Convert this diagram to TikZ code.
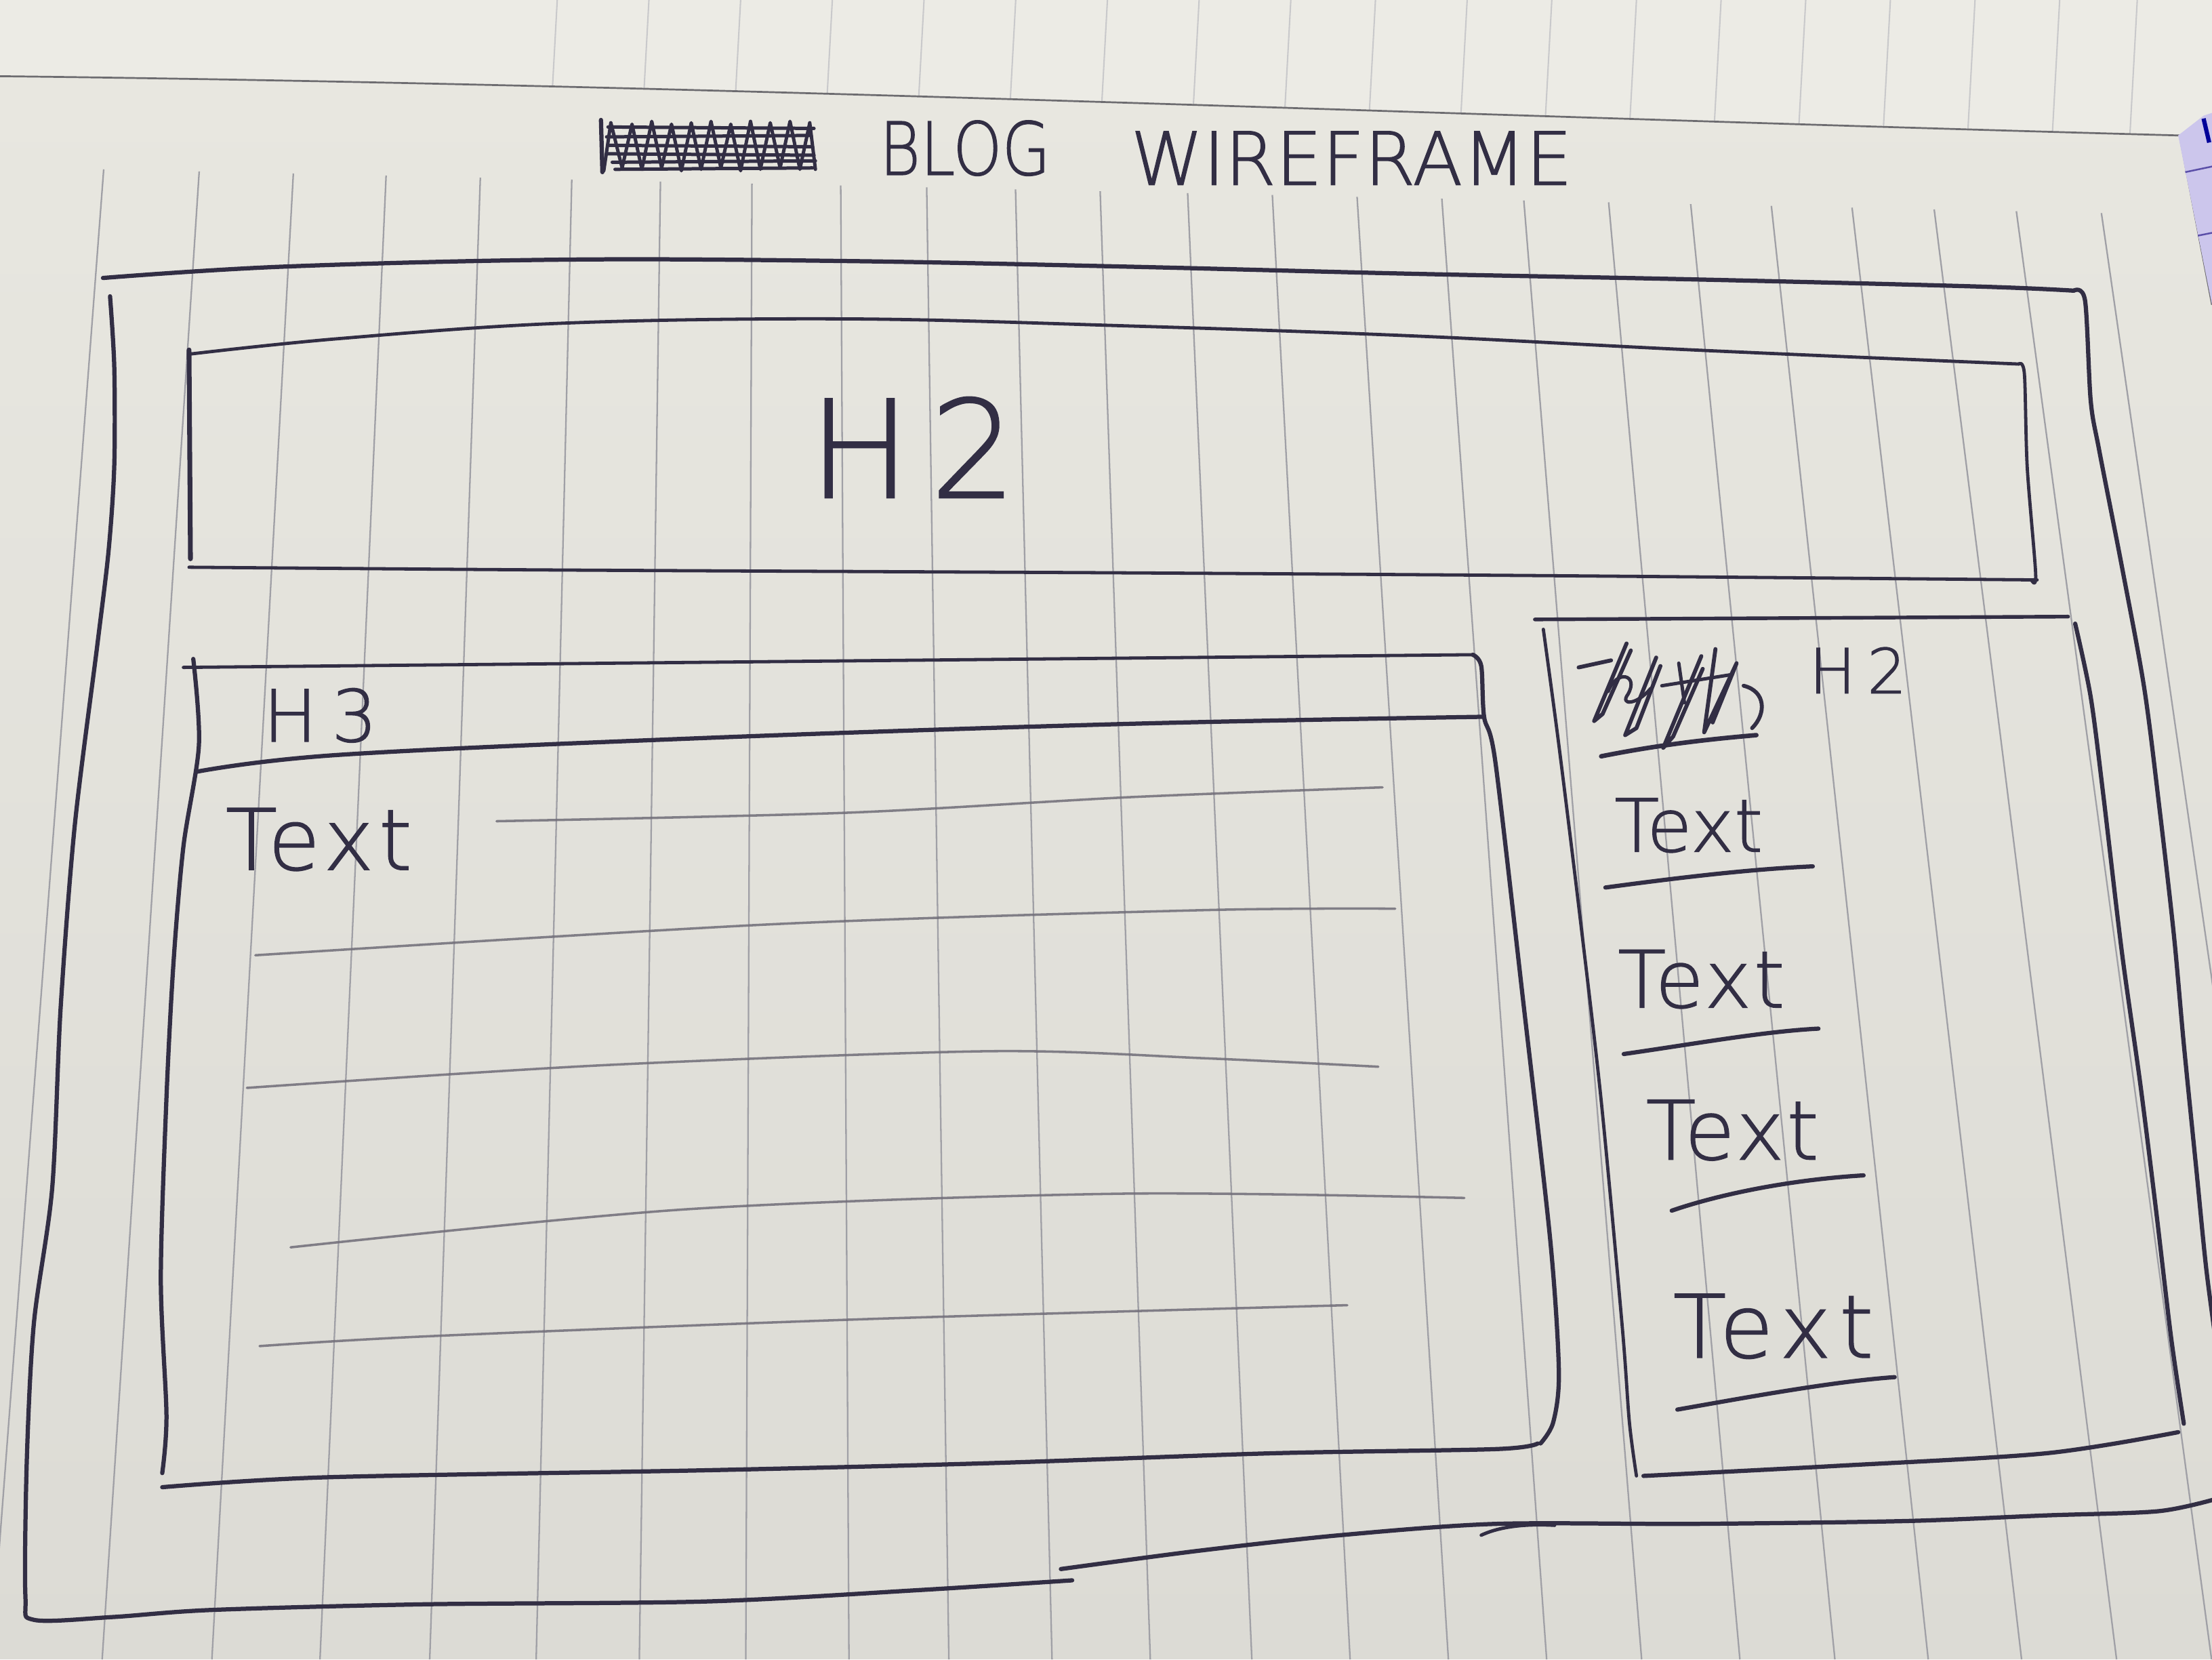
\documentclass[tikz,border=0pt]{standalone}
\usepackage{fontspec}
\usepackage{graphicx}
% thin sans for the hand lettering
\IfFontExistsTF{DejaVu Sans ExtraLight}
  {\newfontfamily\handfont{DejaVu Sans ExtraLight}[FakeBold=1.2]}
  {\newfontfamily\handfont{DejaVu Sans}}
\newcommand\hw[2]{\handfont\fontsize{#1}{#1}\selectfont #2}

\definecolor{prevpage}{HTML}{ECEBE5}
\definecolor{paperhi}{HTML}{E8E7E0}
\definecolor{paperlow}{HTML}{DCDBD5}
\definecolor{rule}{HTML}{A0A0A6}
\definecolor{faintrule}{HTML}{C9C9CB}
\definecolor{edgegrey}{HTML}{6D6C70}
\definecolor{ink}{HTML}{322E44}
\definecolor{pencil}{HTML}{706D78}
\definecolor{sticky}{HTML}{CCC6EC}
\definecolor{stickyline}{HTML}{5B4FA8}

\begin{document}
\begin{tikzpicture}[x=1pt,y=-1pt,
  inkline/.style={draw=ink,line width=3pt,line cap=round,line join=round},
  thinink/.style={inkline,line width=2.3pt},
  scribble/.style={inkline,line width=2.4pt},
  pencilline/.style={draw=pencil,line width=1.7pt,line cap=round,opacity=0.85},
  ruleline/.style={draw=rule,line width=1.1pt},
  handlabel/.style={inner sep=0pt,text=ink}]
\useasboundingbox (0,0) rectangle (1568,1176);
\clip (0,0) rectangle (1568,1176);

% previous page showing above the fold
\fill[prevpage] (0,0) rectangle (1568,230);
\foreach \xt in {395,460,525,590,655,720,785,850,915,975,1040,1100,1160,1220,1280,1340,1400,1460,1515}
  \draw[draw=faintrule,line width=1pt] (\xt,0) -- ({\xt-6},110);

% current page
\shade[top color=paperhi,bottom color=paperlow]
  (0,54) .. controls (515,60) and (1030,82) .. (1545,96) -- (1568,216) -- (1568,1176) -- (0,1176) -- cycle;
\draw[draw=edgegrey,line width=1.3pt]
  (0,54) .. controls (515,60) and (1030,82) .. (1545,96) -- (1568,216);

% sticky tab at the right edge
\fill[sticky] (1544,96) -- (1562,82) -- (1568,80) -- (1568,216) -- cycle;
\draw[draw=stickyline,line width=1.2pt] (1549,122) -- (1568,118);
\draw[draw=stickyline,line width=1.2pt] (1558,167) -- (1568,165);
\draw[draw=blue!60!black,line width=3pt] (1562,84) -- (1566,101);

% ruled lines of the notebook
\foreach \xt in {72,140,207,273,340,405,468,533,596,657,720,780,842,902,962,1022,1080,1140,1198,1255,1312,1370,1428,1488} {
  \pgfmathsetmacro\ys{120+0.0219*(\xt-72)}
  \pgfmathsetmacro\xs{560+(\xt-560)*(1+0.16*(\ys-140)/1030)}
  \pgfmathsetmacro\xb{560+(\xt-560)*1.1609}
  \draw[ruleline] (\xs,\ys) -- (\xb,1176);
}

% ---------- title ----------
\draw[inkline,line width=3pt] (427,122) -- (426,85);
\draw[scribble] (428,121) -- (433,87) -- (441,119) -- (448,88) -- (455,120) -- (462,86) -- (469,119)
  -- (476,88) -- (483,121) -- (490,87) -- (497,120) -- (504,86) -- (511,119) -- (518,88)
  -- (525,121) -- (532,86) -- (539,120) -- (546,87) -- (553,119) -- (560,86) -- (567,120)
  -- (574,87) -- (578,120);
\draw[scribble] (431,90) -- (577,91);
\draw[scribble] (430,97) -- (575,96);
\draw[scribble] (432,103) -- (576,104);
\draw[scribble] (431,109) -- (577,110);
\draw[scribble] (434,115) -- (578,114);
\draw[scribble] (436,120) -- (576,119);
\node[handlabel] (titleblog) at (684,105) {\hw{52}{\scalebox{0.85}[1]{BLOG}}};
\node[handlabel] (titlewire) at (958,112) {\hw{52}{WIREFRAME}};

% ---------- outer page frame ----------
\draw[inkline] plot[smooth,tension=0.6] coordinates
  {(73,197) (200,189) (400,184) (600,185) (800,189) (1000,194) (1200,198) (1400,203) (1470,206)};
\draw[inkline] plot[smooth,tension=0.5] coordinates
  {(1470,206) (1478,213) (1482,284) (1488,319) (1504,401) (1520,488) (1531,575) (1541,663) (1548,740) (1557,830) (1564,900) (1572,960)};
\draw[inkline] plot[smooth,tension=0.5] coordinates
  {(78,210) (81,260) (81,330) (77,390) (69,457) (53,585) (43,714) (37,842) (24,938) (19,1035) (18,1131) (24,1148) (80,1146) (150,1141) (300,1137) (500,1135) (650,1127) (760,1120)};
\draw[inkline] plot[smooth,tension=0.5] coordinates
  {(752,1112) (850,1099) (950,1088) (1060,1080) (1200,1080) (1350,1078) (1450,1074) (1530,1071) (1572,1062)};
\draw[inkline,line width=2.4pt] (1050,1088) .. controls (1065,1081) and (1085,1080) .. (1102,1081);

% ---------- header box ----------
\draw[thinink] plot[smooth,tension=0.6] coordinates
  {(134,251) (240,240) (400,229) (600,226) (800,231) (1000,238) (1200,248) (1431,258)};
\draw[thinink] plot[smooth,tension=0.5] coordinates
  {(1431,258) (1435,265) (1437,331) (1443,407) (1440,411)};
\draw[thinink] plot[smooth,tension=0.5] coordinates
  {(1444,411) (1100,408) (800,406) (400,404) (134,402)};
\draw[inkline,line width=3.4pt] (134,248) -- (135,396);
\node[handlabel] (headtitle) at (647,317) {\hw{96}{H\kern14pt 2}};

% ---------- article box ----------
\draw[thinink] (130,473) -- (1044,464);
\draw[inkline] plot[smooth,tension=0.5] coordinates
  {(1044,464) (1050,472) (1052,508) (1060,540) (1080,712) (1099,880) (1105,972) (1101,1008) (1092,1023)};
\draw[inkline] plot[smooth,tension=0.5] coordinates
  {(1090,1023) (1060,1027) (900,1030) (700,1037) (500,1042) (230,1047) (115,1054)};
\draw[inkline] plot[smooth,tension=0.5] coordinates
  {(137,467) (141,528) (130,600) (123,682) (118,778) (114,906) (118,1003) (115,1044)};
\draw[inkline] plot[smooth,tension=0.6] coordinates
  {(139,547) (240,535) (500,523) (800,513) (1051,508)};
\node[handlabel] (articlehead) at (227,507) {\hw{51}{H\kern10pt 3}};
\node[handlabel] (articletext) at (226,595) {\hw{60}{\addfontfeature{LetterSpace=6}Text}};

% body copy placeholders
\draw[pencilline] plot[smooth] coordinates {(352,582) (600,576) (800,565) (980,558)};
\draw[pencilline] plot[smooth] coordinates {(181,677) (548,655) (854,645) (989,644)};
\draw[pencilline] plot[smooth] coordinates {(175,771) (426,755) (701,745) (854,750) (977,756)};
\draw[pencilline] plot[smooth] coordinates {(206,884) (487,857) (793,846) (1038,849)};
\draw[pencilline] plot[smooth] coordinates {(184,954) (304,947) (610,935) (955,925)};

% ---------- sidebar ----------
\draw[inkline,line width=2.6pt] (1088,439) -- (1466,437);
\draw[inkline] plot[smooth,tension=0.5] coordinates
  {(1471,442) (1482,494) (1491,564) (1504,674) (1517,767) (1528,855) (1539,948) (1548,1009)};
\draw[inkline] plot[smooth,tension=0.5] coordinates
  {(1544,1015) (1450,1030) (1300,1039) (1165,1046)};
\draw[thinink] plot[smooth,tension=0.5] coordinates
  {(1094,446) (1105,528) (1120,650) (1135,780) (1150,941) (1155,1008) (1160,1046)};

% struck-out heading word
\draw[scribble,line width=2.8pt] (1119,473) -- (1142,468);
\draw[scribble,line width=2.8pt] (1153,456) -- (1130,511) -- (1136,506) -- (1156,461);
\draw[scribble] (1140,490) .. controls (1146,474) and (1162,478) .. (1154,492)
  .. controls (1148,500) and (1160,500) .. (1170,488);
\draw[scribble,line width=2.8pt] (1174,466) -- (1152,521) -- (1160,516) -- (1177,472);
\draw[scribble,line width=2.8pt] (1206,465) -- (1179,530) -- (1186,522) -- (1207,474);
\draw[scribble,line width=2.8pt] (1216,460) -- (1208,519) -- (1231,470) -- (1214,512);
\draw[scribble] (1178,486) -- (1228,478);
\draw[scribble] (1190,470) -- (1194,498);
\draw[scribble,line width=2.8pt] (1236,486) .. controls (1252,490) and (1252,506) .. (1242,516);
\draw[inkline,line width=3.2pt] (1135,536) .. controls (1175,528) and (1210,524) .. (1245,521);
\node[handlabel] (sidehead) at (1317,475) {\hw{44}{H\kern8pt 2}};

% sidebar links
\node[handlabel] (linkone) at (1197,585) {\hw{52}{Text}};
\draw[inkline] (1138,629) .. controls (1190,622) and (1240,616) .. (1285,614);
\node[handlabel] (linktwo) at (1206,694) {\hw{56}{\addfontfeature{LetterSpace=3}Text}};
\draw[inkline] (1151,747) .. controls (1200,740) and (1250,731) .. (1289,729);
\node[handlabel] (linkthree) at (1228,801) {\hw{58}{\addfontfeature{LetterSpace=3}Text}};
\draw[inkline] (1185,858) .. controls (1220,846) and (1270,836) .. (1321,833);
\node[handlabel] (linkfour) at (1257,940) {\hw{62}{\addfontfeature{LetterSpace=9}Text}};
\draw[inkline] (1189,999) .. controls (1240,990) and (1300,979) .. (1343,976);
\end{tikzpicture}
\end{document}
